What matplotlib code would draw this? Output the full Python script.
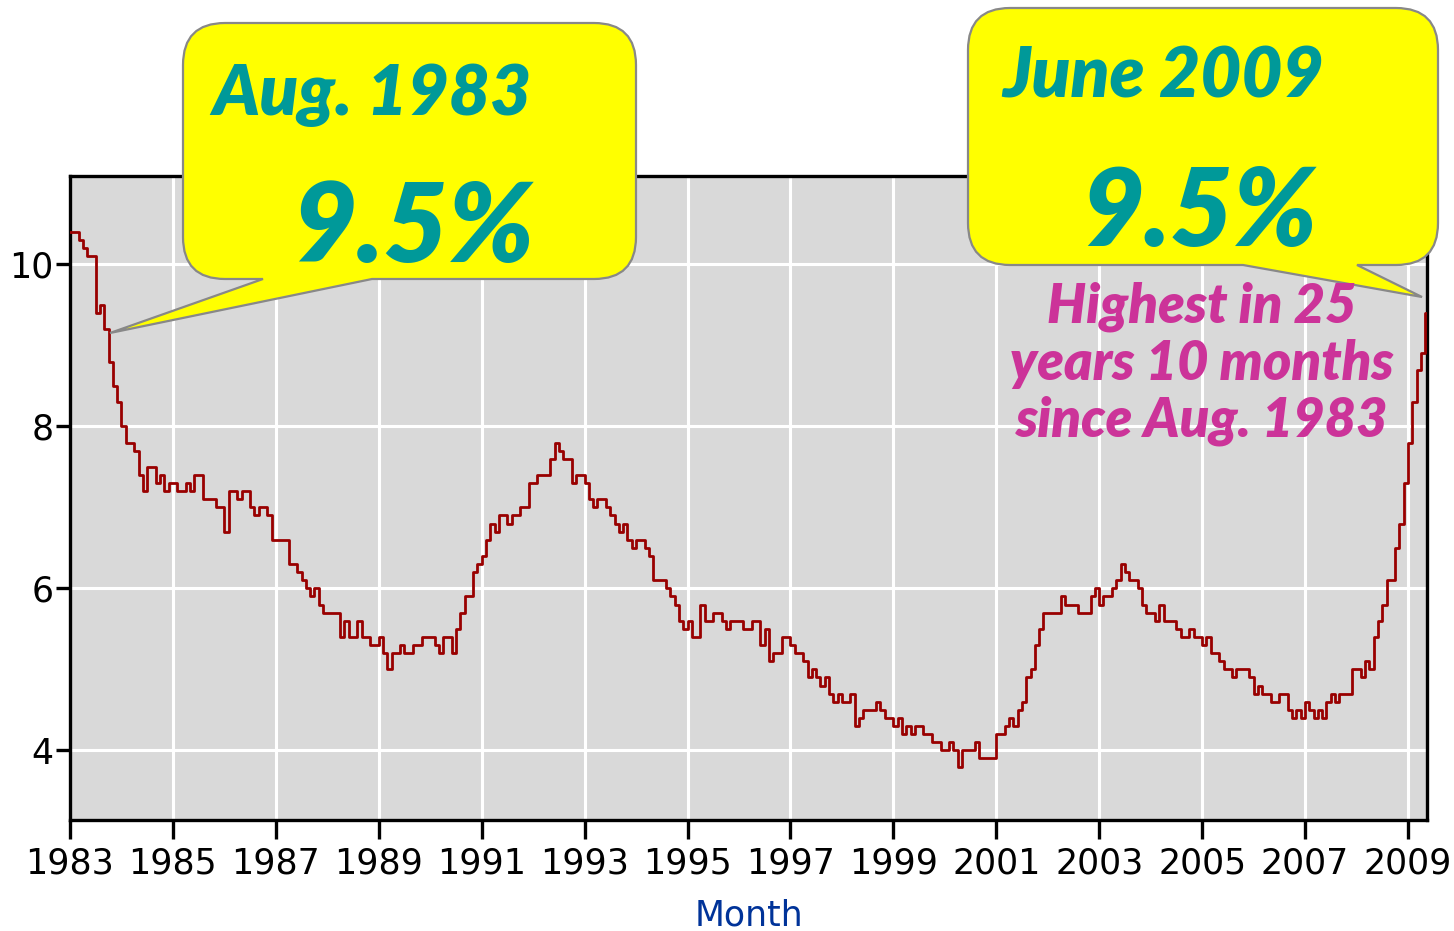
import matplotlib.pyplot as plt
import numpy as np
from matplotlib.path import Path
from matplotlib.patches import PathPatch
from matplotlib.transforms import Affine2D

# monthly unemployment rate (%), Jan 1983 .. Jun 2009
rate_1983 = [10.4, 10.4, 10.3, 10.2, 10.1, 10.1, 9.4, 9.5, 9.2, 8.8, 8.5, 8.3]
rate_1984 = [8.0, 7.8, 7.8, 7.7, 7.4, 7.2, 7.5, 7.5, 7.3, 7.4, 7.2, 7.3]
rate_1985 = [7.3, 7.2, 7.2, 7.3, 7.2, 7.4, 7.4, 7.1, 7.1, 7.1, 7.0, 7.0]
rate_1986 = [6.7, 7.2, 7.2, 7.1, 7.2, 7.2, 7.0, 6.9, 7.0, 7.0, 6.9, 6.6]
rate_1987 = [6.6, 6.6, 6.6, 6.3, 6.3, 6.2, 6.1, 6.0, 5.9, 6.0, 5.8, 5.7]
rate_1988 = [5.7, 5.7, 5.7, 5.4, 5.6, 5.4, 5.4, 5.6, 5.4, 5.4, 5.3, 5.3]
rate_1989 = [5.4, 5.2, 5.0, 5.2, 5.2, 5.3, 5.2, 5.2, 5.3, 5.3, 5.4, 5.4]
rate_1990 = [5.4, 5.3, 5.2, 5.4, 5.4, 5.2, 5.5, 5.7, 5.9, 5.9, 6.2, 6.3]
rate_1991 = [6.4, 6.6, 6.8, 6.7, 6.9, 6.9, 6.8, 6.9, 6.9, 7.0, 7.0, 7.3]
rate_1992 = [7.3, 7.4, 7.4, 7.4, 7.6, 7.8, 7.7, 7.6, 7.6, 7.3, 7.4, 7.4]
rate_1993 = [7.3, 7.1, 7.0, 7.1, 7.1, 7.0, 6.9, 6.8, 6.7, 6.8, 6.6, 6.5]
rate_1994 = [6.6, 6.6, 6.5, 6.4, 6.1, 6.1, 6.1, 6.0, 5.9, 5.8, 5.6, 5.5]
rate_1995 = [5.6, 5.4, 5.4, 5.8, 5.6, 5.6, 5.7, 5.7, 5.6, 5.5, 5.6, 5.6]
rate_1996 = [5.6, 5.5, 5.5, 5.6, 5.6, 5.3, 5.5, 5.1, 5.2, 5.2, 5.4, 5.4]
rate_1997 = [5.3, 5.2, 5.2, 5.1, 4.9, 5.0, 4.9, 4.8, 4.9, 4.7, 4.6, 4.7]
rate_1998 = [4.6, 4.6, 4.7, 4.3, 4.4, 4.5, 4.5, 4.5, 4.6, 4.5, 4.4, 4.4]
rate_1999 = [4.3, 4.4, 4.2, 4.3, 4.2, 4.3, 4.3, 4.2, 4.2, 4.1, 4.1, 4.0]
rate_2000 = [4.0, 4.1, 4.0, 3.8, 4.0, 4.0, 4.0, 4.1, 3.9, 3.9, 3.9, 3.9]
rate_2001 = [4.2, 4.2, 4.3, 4.4, 4.3, 4.5, 4.6, 4.9, 5.0, 5.3, 5.5, 5.7]
rate_2002 = [5.7, 5.7, 5.7, 5.9, 5.8, 5.8, 5.8, 5.7, 5.7, 5.7, 5.9, 6.0]
rate_2003 = [5.8, 5.9, 5.9, 6.0, 6.1, 6.3, 6.2, 6.1, 6.1, 6.0, 5.8, 5.7]
rate_2004 = [5.7, 5.6, 5.8, 5.6, 5.6, 5.6, 5.5, 5.4, 5.4, 5.5, 5.4, 5.4]
rate_2005 = [5.3, 5.4, 5.2, 5.2, 5.1, 5.0, 5.0, 4.9, 5.0, 5.0, 5.0, 4.9]
rate_2006 = [4.7, 4.8, 4.7, 4.7, 4.6, 4.6, 4.7, 4.7, 4.5, 4.4, 4.5, 4.4]
rate_2007 = [4.6, 4.5, 4.4, 4.5, 4.4, 4.6, 4.7, 4.6, 4.7, 4.7, 4.7, 5.0]
rate_2008 = [5.0, 4.9, 5.1, 5.0, 5.4, 5.6, 5.8, 6.1, 6.1, 6.5, 6.8, 7.3]
rate_2009 = [7.8, 8.3, 8.7, 8.9, 9.4, 9.5]

rates = (rate_1983 + rate_1984 + rate_1985 + rate_1986 + rate_1987 + rate_1988
         + rate_1989 + rate_1990 + rate_1991 + rate_1992 + rate_1993 + rate_1994
         + rate_1995 + rate_1996 + rate_1997 + rate_1998 + rate_1999 + rate_2000
         + rate_2001 + rate_2002 + rate_2003 + rate_2004 + rate_2005 + rate_2006
         + rate_2007 + rate_2008 + rate_2009)
months = 1983 + np.arange(len(rates)) / 12.0

year_ticks = list(range(1983, 2010, 2))
y_ticks = [4, 6, 8, 10]

W, H = 1454, 931
fig = plt.figure(figsize=(W / 100, H / 100), dpi=100)
ax = fig.add_axes([70 / W, 1 - 820 / H, (1427 - 70) / W, (820 - 176) / H])
ax.set_facecolor("#d9d9d9")
ax.step(months, rates, where="post", color="#990000", lw=2.0, zorder=3)
ax.set_xlim(1983, 2009.37)
ax.set_ylim(3.14, 11.09)
ax.set_xticks(year_ticks)
ax.set_yticks(y_ticks)
ax.grid(True, color="white", lw=2.2)
ax.set_axisbelow(True)
for s in ax.spines.values():
    s.set_linewidth(2.4)
ax.tick_params(axis="x", length=14, width=2.4, pad=5, labelsize=25)
ax.tick_params(axis="y", length=10, width=2.4, pad=2, labelsize=25)
ax.set_xlabel("Month", color="#003399", fontsize=25, labelpad=13)

# pixel coords (y down) -> figure
pix = Affine2D().scale(1 / W, -1 / H).translate(0, 1) + fig.transFigure


def bubble(x0, y0, x1, y1, r, t1, t2, tip):
    verts = [(x0 + r, y0), (x1 - r, y0), (x1, y0), (x1, y0 + r),
             (x1, y1 - r), (x1, y1), (x1 - r, y1),
             (t2, y1), tip, (t1, y1),
             (x0 + r, y1), (x0, y1), (x0, y1 - r),
             (x0, y0 + r), (x0, y0), (x0 + r, y0), (x0 + r, y0)]
    codes = [Path.MOVETO, Path.LINETO, Path.CURVE3, Path.CURVE3,
             Path.LINETO, Path.CURVE3, Path.CURVE3,
             Path.LINETO, Path.LINETO, Path.LINETO,
             Path.LINETO, Path.CURVE3, Path.CURVE3,
             Path.LINETO, Path.CURVE3, Path.CURVE3, Path.CLOSEPOLY]
    p = PathPatch(Path(verts, codes), transform=pix, facecolor="#ffff00",
                  edgecolor="#888888", lw=1.6, zorder=10)
    fig.add_artist(p)


bubble(183, 23, 636, 279, 42, 263, 372, (110, 333))
bubble(968, 8, 1438, 265, 42, 1243, 1357, (1422, 297))

teal = "#009999"
pink = "#cc3399"
font = dict(family="Lato", weight="heavy", style="italic")
fig.text(372, 115, "Aug. 1983", color=teal, fontsize=51, ha="center", transform=pix, zorder=11, **font)
fig.text(413, 262, "9.5%", color=teal, fontsize=80, ha="center", transform=pix, zorder=11, **font)
fig.text(1163, 97, "June 2009", color=teal, fontsize=51, ha="center", transform=pix, zorder=11, **font)
fig.text(1199, 246, "9.5%", color=teal, fontsize=78, ha="center", transform=pix, zorder=11, **font)
for txt, yb in [("Highest in 25", 323), ("years 10 months", 380), ("since Aug. 1983", 437)]:
    fig.text(1202, yb, txt, color=pink, fontsize=39, ha="center", transform=pix, zorder=11, **font)

fig.savefig("out.png", dpi=100)
